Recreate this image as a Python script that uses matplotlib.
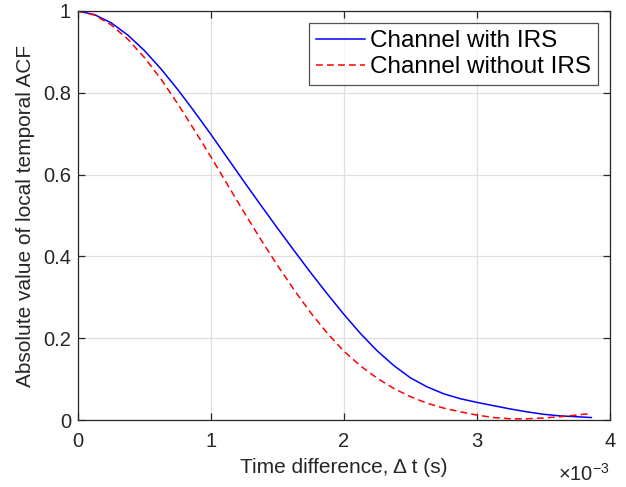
import numpy as np
import matplotlib
matplotlib.use("Agg")
import matplotlib.pyplot as plt
from matplotlib.ticker import FuncFormatter

plt.rcParams['font.family'] = ['Liberation Sans', 'DejaVu Sans']
plt.rcParams['mathtext.fontset'] = 'custom'
plt.rcParams['mathtext.rm'] = 'Liberation Sans'
plt.rcParams['axes.unicode_minus'] = False

# time difference (ms) and |ACF|
t_ms = [0, 0.125, 0.25, 0.375, 0.5, 0.625, 0.75, 0.875, 1.0, 1.125, 1.25,
        1.375, 1.5, 1.625, 1.75, 1.875, 2.0, 2.125, 2.25, 2.375, 2.5, 2.625,
        2.75, 2.875, 3.0, 3.125, 3.25, 3.375, 3.5, 3.625, 3.75, 3.86]
acf_irs = [1.0, 0.991, 0.971, 0.941, 0.903, 0.858, 0.808, 0.754, 0.698,
           0.640, 0.582, 0.525, 0.469, 0.414, 0.360, 0.308, 0.258, 0.211,
           0.169, 0.133, 0.103, 0.081, 0.064, 0.052, 0.043, 0.035, 0.027,
           0.020, 0.014, 0.010, 0.008, 0.006]
acf_no_irs = [1.0, 0.990, 0.966, 0.931, 0.886, 0.833, 0.773, 0.709, 0.643,
              0.575, 0.507, 0.441, 0.378, 0.318, 0.262, 0.212, 0.168, 0.132,
              0.102, 0.077, 0.057, 0.041, 0.029, 0.020, 0.012, 0.006, 0.003,
              0.003, 0.005, 0.008, 0.012, 0.016]

t = np.array(t_ms) * 1e-3

fig = plt.figure(figsize=(6.26, 4.87), dpi=100)
ax = fig.add_axes([78/626, 1 - 420/487, 532/626, 409/487])

ax.plot(t, acf_irs, color=(0, 0, 1), lw=1.1, label="Channel with IRS")
ax.plot(t, acf_no_irs, color=(1, 0, 0), lw=1.1, dashes=[4.5, 2.7],
        label="Channel without IRS")

ax.set_xlim(0, 4e-3)
ax.set_ylim(0, 1)
ax.set_xticks([0, 1e-3, 2e-3, 3e-3, 4e-3])
ax.xaxis.set_major_formatter(FuncFormatter(lambda v, p: "%g" % round(v * 1e3, 6)))
ax.set_yticks([0, 0.2, 0.4, 0.6, 0.8, 1])
ax.set_yticklabels(["0", "0.2", "0.4", "0.6", "0.8", "1"])

ax.grid(True, color='0.88', lw=0.9)
ax.set_axisbelow(True)
for s in ax.spines.values():
    s.set_color('0.15')
    s.set_linewidth(0.9)
ax.tick_params(direction='in', top=True, right=True, length=5, width=0.9,
               labelsize=14.5, colors='0.15', labelcolor='0.15')
ax.tick_params(axis='x', pad=8.5)
ax.tick_params(axis='y', pad=5)

ax.set_xlabel("Time difference, Δ t (s)", fontsize=15, color='0.15', labelpad=5)
ax.set_ylabel("Absolute value of local temporal ACF", fontsize=15, color='0.15', labelpad=6)

# MATLAB-style exponent under the right end of the x axis
ax.text(1.0, -0.105, r"$\times$10$^{-3}$", transform=ax.transAxes, ha='right',
        va='top', fontsize=14.5, color='0.15')

leg = ax.legend(loc='upper right', fontsize=17.5, frameon=True, fancybox=False,
                edgecolor='0.15', handlelength=2.0, handletextpad=0.2,
                borderpad=0.3, labelspacing=0.15, borderaxespad=0.5)
leg.get_frame().set_linewidth(0.9)

fig.savefig("out.png", dpi=100)
